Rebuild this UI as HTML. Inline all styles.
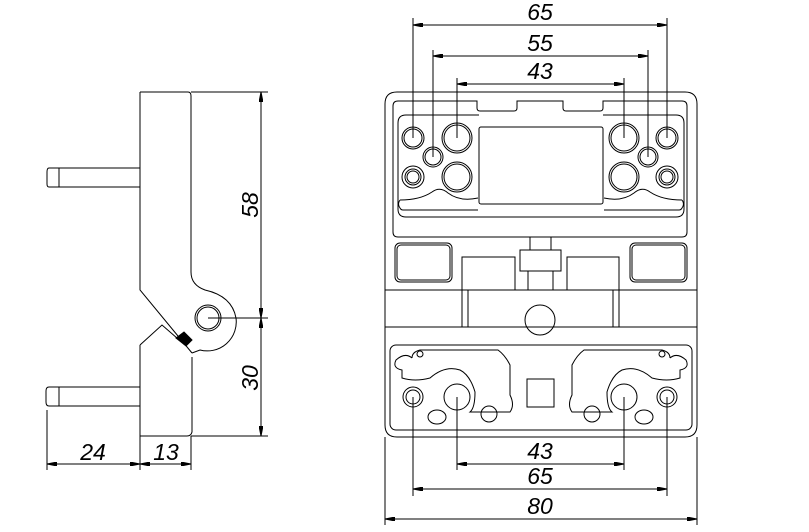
<!DOCTYPE html>
<html><head><style>body{margin:0;background:#fff}svg{display:block}text{font-family:"Liberation Sans",sans-serif;font-style:italic;font-size:23px;fill:#000;text-anchor:middle}</style></head>
<body>
<svg width="809" height="532" viewBox="0 0 809 532" xmlns="http://www.w3.org/2000/svg" fill="none" stroke="#000" stroke-width="1">
<defs><marker id="a" viewBox="0 0 10 4" refX="10" refY="2" markerWidth="10" markerHeight="4" orient="auto-start-reverse"><path d="M0,0L10,2L0,4z" fill="#000"/></marker></defs>
<!-- LEFT VIEW -->
<path d="M140,92H188Q191,92 191,96V272Q191,285 205,290Q232,296 236,318A29,29 0 0 1 200,350L192,353"/>
<path d="M140,92V290L192,353"/>
<path d="M140,345L162,325L185,345M192,357V432Q191,436 187,436H140V345"/>
<circle cx="208" cy="318" r="13"/><circle cx="208" cy="318" r="11"/>
<path d="M176,338l8,-6l8,8l-6,6z" fill="#000"/>
<path d="M59,168H140M59,187H140M59,168V187M59,168H49Q47,168 47,172V184Q47,187 49,187H59"/>
<path d="M59,387H140M59,406H140M59,387V406M59,387H49Q46,387 46,391V402Q46,406 49,406H59"/>
<path d="M191,92H268M208,318H268M191,436H268"/>
<path d="M261,92V318" marker-start="url(#a)" marker-end="url(#a)"/>
<path d="M261,318V436" marker-start="url(#a)" marker-end="url(#a)"/>
<text transform="translate(258,205) rotate(-90)" stroke="none">58</text>
<text transform="translate(258,378) rotate(-90)" stroke="none">30</text>
<path d="M47,410V470M140,436V470M191,436V470"/>
<path d="M47,464H140" marker-start="url(#a)" marker-end="url(#a)"/>
<path d="M140,464H191" marker-start="url(#a)" marker-end="url(#a)"/>
<text x="93" y="460" stroke="none">24</text><text x="166" y="460" stroke="none">13</text>
<!-- RIGHT VIEW -->
<path d="M385,290V104Q385,92 397,92H685Q697,92 697,104V290"/>
<path d="M398,101H477V108Q477,111 480,111H514Q517,111 517,108V101H563V108Q563,111 566,111H600Q603,111 603,108V101H682Q687,101 687,106V232Q687,237 682,237H398Q393,237 393,232V106Q393,101 398,101Z"/>
<path d="M479,115H406Q398,115 398,123V209Q398,217 406,217H676Q684,217 684,209V123Q684,115 676,115H603"/>
<path d="M400,200Q420,200 432,192Q440,186 448,193Q460,202 478,198M403,210H478M400,200Q397,204 400,208Q401,210 403,210M682,200Q662,200 650,192Q642,186 634,193Q622,202 604,198M679,210H604M682,200Q685,204 682,208Q681,210 679,210"/>
<rect x="479" y="127" width="124" height="77" rx="2"/>
<g>
<circle cx="413" cy="138" r="11"/><circle cx="413" cy="138" r="9"/>
<circle cx="433" cy="157" r="10"/><circle cx="433" cy="157" r="8"/>
<circle cx="457" cy="138" r="15"/><circle cx="457" cy="138" r="13"/>
<circle cx="413" cy="177" r="11"/><circle cx="413" cy="177" r="8"/><circle cx="413" cy="177" r="6"/>
<circle cx="457" cy="177" r="15"/><circle cx="457" cy="177" r="13"/>
<circle cx="667" cy="138" r="11"/><circle cx="667" cy="138" r="9"/>
<circle cx="648" cy="157" r="10"/><circle cx="648" cy="157" r="8"/>
<circle cx="624" cy="138" r="15"/><circle cx="624" cy="138" r="13"/>
<circle cx="667" cy="177" r="11"/><circle cx="667" cy="177" r="8"/><circle cx="667" cy="177" r="6"/>
<circle cx="624" cy="177" r="15"/><circle cx="624" cy="177" r="13"/>
</g>
<rect x="395" y="243" width="57" height="39" rx="5"/><rect x="397" y="245" width="53" height="35" rx="4"/>
<rect x="630" y="243" width="57" height="39" rx="5"/><rect x="632" y="245" width="53" height="35" rx="4"/>
<path d="M462,290V257H515V290M567,290V257H619V290M530,237V250M551,237V250"/>
<rect x="520" y="250" width="41" height="21"/>
<path d="M528,271V290M553,271V290"/>
<path d="M385,290H697"/>
<path d="M462,290V327M468,290V327M613,290V327M619,290V327M385,290V327M697,290V327M385,327H697"/>
<circle cx="540" cy="320" r="15"/>
<path d="M385,327V425Q385,437 397,437H685Q697,437 697,425V327"/>
<rect x="390" y="345" width="302" height="85" rx="6"/>
<path d="M412,358Q405,352 396,360Q392,368 402,370V378Q415,382 430,378Q445,365 460,370Q470,375 475,392Q475,408 470,412H510Q515,405 510,395V365Q505,355 498,350H420Q412,352 412,358"/>
<path d="M670,358Q677,352 686,360Q690,368 680,370V378Q667,382 652,378Q637,365 622,370Q612,375 607,392Q607,408 612,412H572Q567,405 572,395V365Q577,355 584,350H662Q670,352 670,358"/>
<circle cx="420" cy="354" r="3"/><circle cx="662" cy="354" r="3"/>
<circle cx="457" cy="397" r="13"/><circle cx="624" cy="397" r="13"/>
<circle cx="413" cy="397" r="10"/><circle cx="413" cy="397" r="7"/>
<circle cx="667" cy="397" r="10"/><circle cx="667" cy="397" r="7"/>
<circle cx="489" cy="414" r="8"/><circle cx="592" cy="414" r="8"/>
<ellipse cx="437" cy="417" rx="9" ry="7"/><ellipse cx="644" cy="417" rx="9" ry="7"/>
<rect x="527" y="379" width="27" height="28"/>
<!-- dimension extensions -->
<path d="M413,18V138M433,50V157M457,78V138M624,78V138M648,50V157M667,18V138"/>
<path d="M413,397V496M457,397V470M624,397V470M667,397V496M385,437V525M697,437V525"/>
<path d="M413,25H667" marker-start="url(#a)" marker-end="url(#a)"/>
<path d="M433,56H648" marker-start="url(#a)" marker-end="url(#a)"/>
<path d="M457,84H624" marker-start="url(#a)" marker-end="url(#a)"/>
<path d="M457,464H624" marker-start="url(#a)" marker-end="url(#a)"/>
<path d="M413,489H667" marker-start="url(#a)" marker-end="url(#a)"/>
<path d="M385,519H697" marker-start="url(#a)" marker-end="url(#a)"/>
<text x="540" y="20" stroke="none">65</text>
<text x="540" y="51" stroke="none">55</text>
<text x="540" y="79" stroke="none">43</text>
<text x="540" y="459" stroke="none">43</text>
<text x="540" y="484" stroke="none">65</text>
<text x="540" y="514" stroke="none">80</text>
</svg>
</body></html>
